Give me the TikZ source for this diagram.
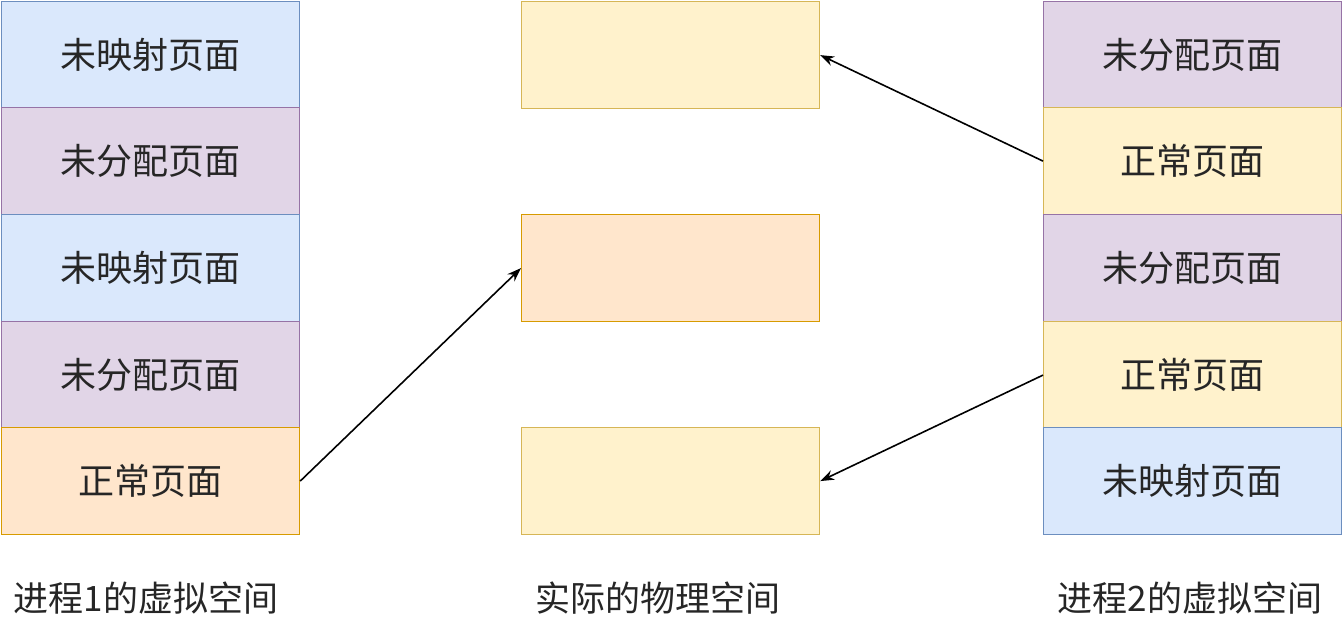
\documentclass[tikz,border=0pt]{standalone}
\usepackage{fontspec}
\setmainfont{Noto Sans CJK SC}
\usetikzlibrary{arrows.meta}
\begin{document}
\begin{tikzpicture}[x=1pt,y=-1pt,
  cell/.style={draw,line width=1.2pt,minimum width=298pt,minimum height=107pt,anchor=north west,inner sep=0pt,font=\fontsize{36}{42}\selectfont,text=black!85},
  blu/.style={cell,fill={rgb,255:red,218;green,232;blue,252},draw={rgb,255:red,108;green,142;blue,191}},
  pur/.style={cell,fill={rgb,255:red,225;green,213;blue,231},draw={rgb,255:red,150;green,115;blue,166}},
  yel/.style={cell,fill={rgb,255:red,255;green,242;blue,204},draw={rgb,255:red,214;green,182;blue,86}},
  org/.style={cell,fill={rgb,255:red,255;green,230;blue,204},draw={rgb,255:red,215;green,155;blue,0}},
  lbl/.style={font=\fontsize{35}{40}\selectfont,text=black!85},
  arr/.style={-{Stealth[length=14pt,width=10pt]},line width=1.6pt}]
\useasboundingbox (0,0) rectangle (1344,642);
\node[blu] (l1) at (1,1) {未映射页面};
\node[pur] (l2) at (1,107) {未分配页面};
\node[blu] (l3) at (1,214) {未映射页面};
\node[pur] (l4) at (1,321) {未分配页面};
\node[org] (l5) at (1,427) {正常页面};
\node[yel] (m1) at (521,1) {};
\node[org] (m2) at (521,214) {};
\node[yel] (m3) at (521,427) {};
\node[pur] (r1) at (1043,1) {未分配页面};
\node[yel] (r2) at (1043,107) {正常页面};
\node[pur] (r3) at (1043,214) {未分配页面};
\node[yel] (r4) at (1043,321) {正常页面};
\node[blu] (r5) at (1043,427) {未映射页面};
\node[lbl] (t1) at (146,598) {进程1的虚拟空间};
\node[lbl] (t2) at (658,598) {实际的物理空间};
\node[lbl] (t3) at (1190,598) {进程2的虚拟空间};
\draw[arr] (l5.east) -- (m2.west);
\draw[arr] (r2.west) -- (m1.east);
\draw[arr] (r4.west) -- (m3.east);
\end{tikzpicture}
\end{document}
